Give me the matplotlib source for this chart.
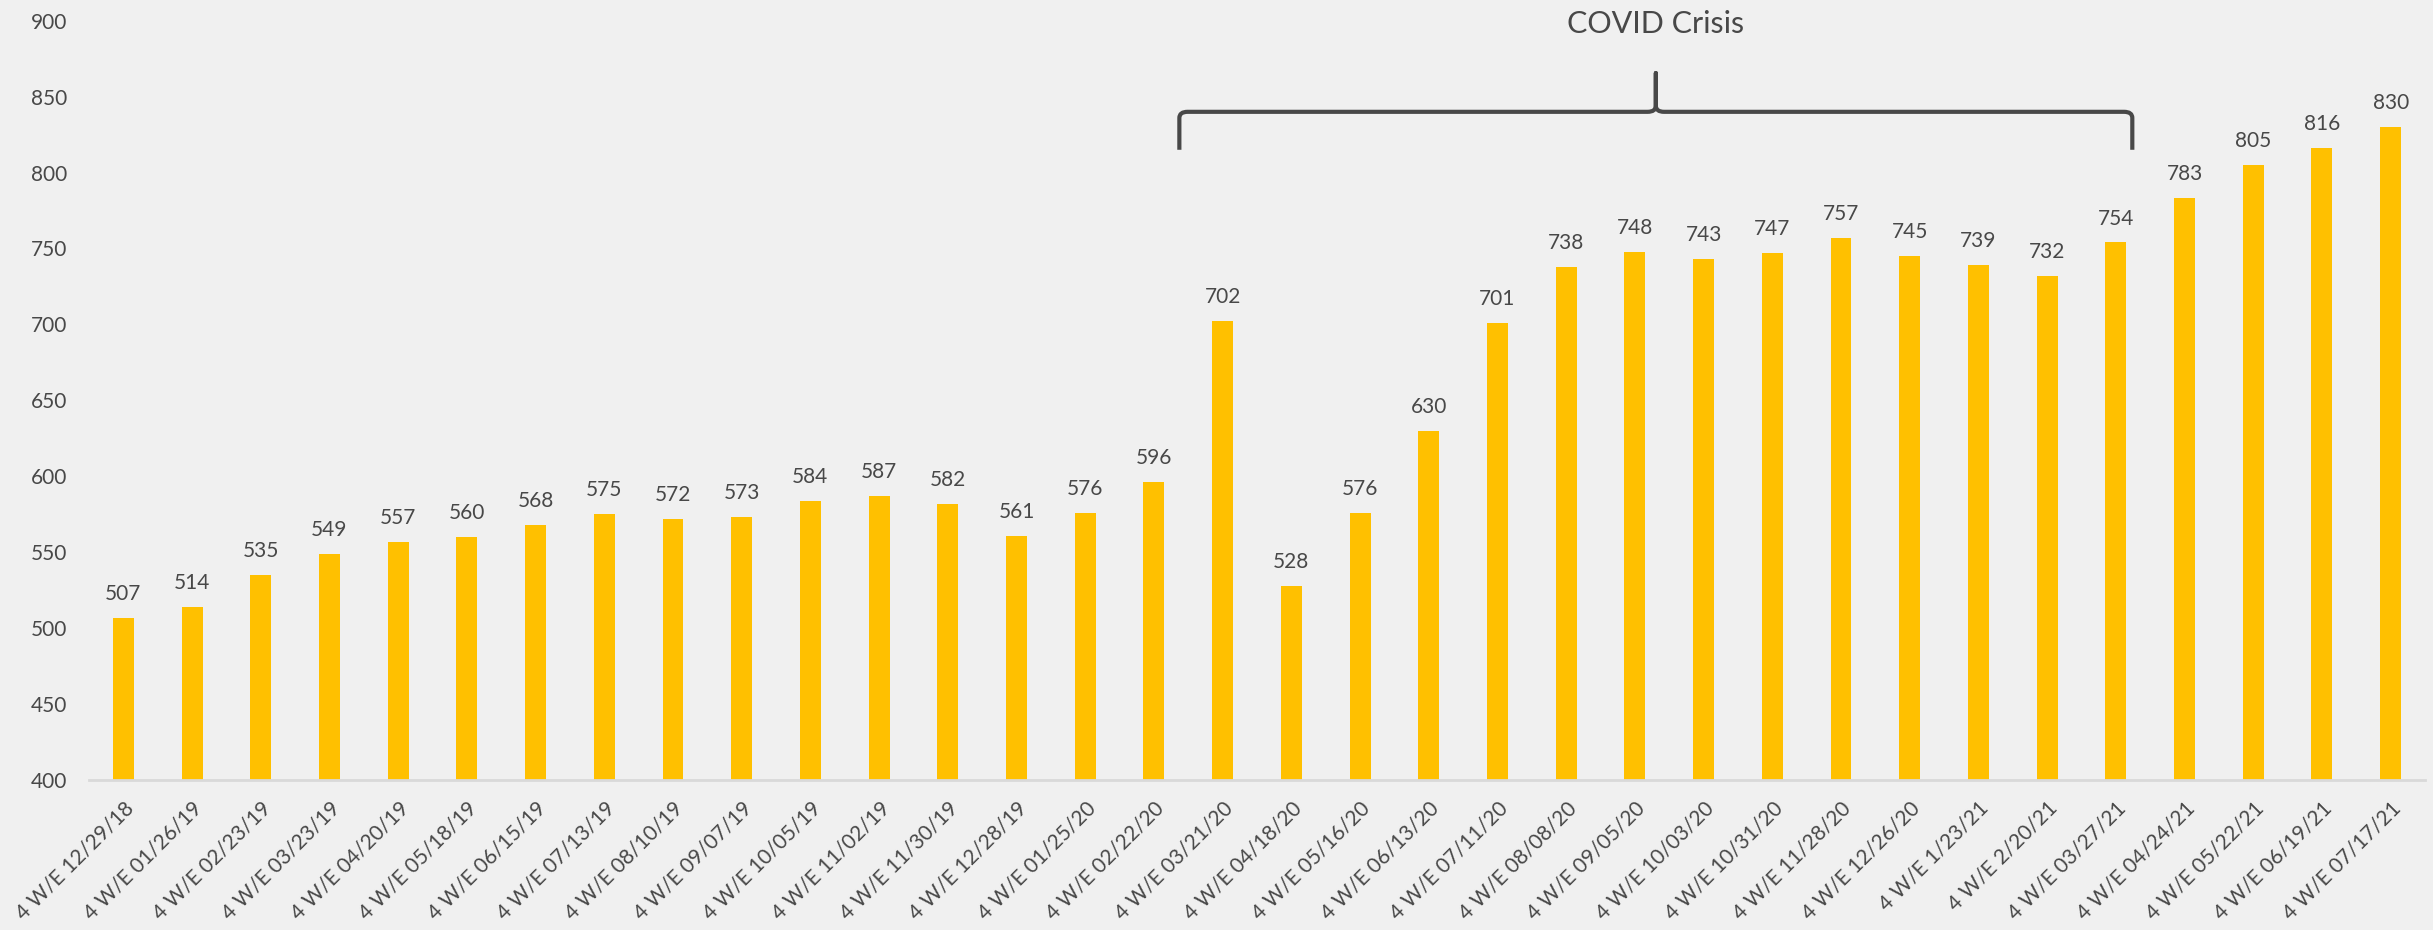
import matplotlib
matplotlib.use("Agg")
import matplotlib.pyplot as plt
from matplotlib.path import Path
from matplotlib.patches import PathPatch

# ---- data ----
periods = ["4 W/E 12/29/18", "4 W/E 01/26/19", "4 W/E 02/23/19", "4 W/E 03/23/19",
           "4 W/E 04/20/19", "4 W/E 05/18/19", "4 W/E 06/15/19", "4 W/E 07/13/19",
           "4 W/E 08/10/19", "4 W/E 09/07/19", "4 W/E 10/05/19", "4 W/E 11/02/19",
           "4 W/E 11/30/19", "4 W/E 12/28/19", "4 W/E 01/25/20", "4 W/E 02/22/20",
           "4 W/E 03/21/20", "4 W/E 04/18/20", "4 W/E 05/16/20", "4 W/E 06/13/20",
           "4 W/E 07/11/20", "4 W/E 08/08/20", "4 W/E 09/05/20", "4 W/E 10/03/20",
           "4 W/E 10/31/20", "4 W/E 11/28/20", "4 W/E 12/26/20", "4 W/E 1/23/21",
           "4 W/E 2/20/21", "4 W/E 03/27/21", "4 W/E 04/24/21", "4 W/E 05/22/21",
           "4 W/E 06/19/21", "4 W/E 07/17/21"]
values = [507, 514, 535, 549, 557, 560, 568, 575, 572, 573, 584, 587, 582, 561,
          576, 596, 702, 528, 576, 630, 701, 738, 748, 743, 747, 757, 745, 739,
          732, 754, 783, 805, 816, 830]
y_ticks = [400, 450, 500, 550, 600, 650, 700, 750, 800, 850, 900]
annotation_text = "COVID Crisis"

plt.rcParams['font.family'] = ['Lato', 'DejaVu Sans']
TXT = '#484848'
BAR = '#FFC000'
BG = '#F0F0F0'

fig = plt.figure(figsize=(24.33, 9.30), dpi=100, facecolor=BG)
W, H = 2433, 930
left_px, right_px = 89, 2425
bot_px, top_px = 780, 20.7
ax = fig.add_axes([left_px / W, 1 - bot_px / H, (right_px - left_px) / W, (bot_px - top_px) / H])
ax.set_facecolor('none')

x = list(range(len(values)))
ax.bar(x, values, width=0.305, color=BAR, zorder=2, bottom=0)
ax.set_xlim(-0.5, len(values) - 0.5)
ax.set_ylim(400, 900)
ax.set_yticks(y_ticks)
ax.set_xticks(x)
ax.set_xticklabels(periods, rotation=45, ha='right', va='top', rotation_mode='anchor')

for s in ['top', 'right', 'left']:
    ax.spines[s].set_visible(False)
ax.spines['bottom'].set_color('#D9D9D9')
ax.spines['bottom'].set_linewidth(2)
ax.spines['bottom'].set_zorder(3)
ax.tick_params(axis='y', length=0, pad=16, labelsize=15, labelcolor=TXT)
ax.tick_params(axis='x', length=0, pad=13, labelsize=15, labelcolor=TXT)

for xi, v in zip(x, values):
    ax.annotate(str(v), (xi, v), xytext=(0, 10), textcoords='offset points',
                ha='center', va='bottom', fontsize=15, color=TXT)

# COVID brace (data coordinates)
xl, xr = 15.37, 29.24
xm = (xl + xr) / 2
yb, yh, yt = 815, 840, 865.5
r = 0.12
verts = [(xl, yb), (xl, yh - 4), (xl, yh), (xl + r, yh),
         (xm - r, yh), (xm, yh), (xm, yh + 4), (xm, yt),
         (xm, yh + 4), (xm, yh), (xm + r, yh),
         (xr - r, yh), (xr, yh), (xr, yh - 4), (xr, yb)]
codes = [Path.MOVETO, Path.LINETO, Path.CURVE3, Path.CURVE3,
         Path.LINETO, Path.CURVE3, Path.CURVE3, Path.LINETO,
         Path.LINETO, Path.CURVE3, Path.CURVE3,
         Path.LINETO, Path.CURVE3, Path.CURVE3, Path.LINETO]
brace = PathPatch(Path(verts, codes), facecolor='none', edgecolor=TXT, lw=3,
                  capstyle='butt', joinstyle='round', clip_on=False, zorder=4)
ax.add_patch(brace)
ax.text(xm, 898, annotation_text, ha='center', va='center', fontsize=22,
        color=TXT, clip_on=False)

fig.savefig('out.png', dpi=100, facecolor=BG)
